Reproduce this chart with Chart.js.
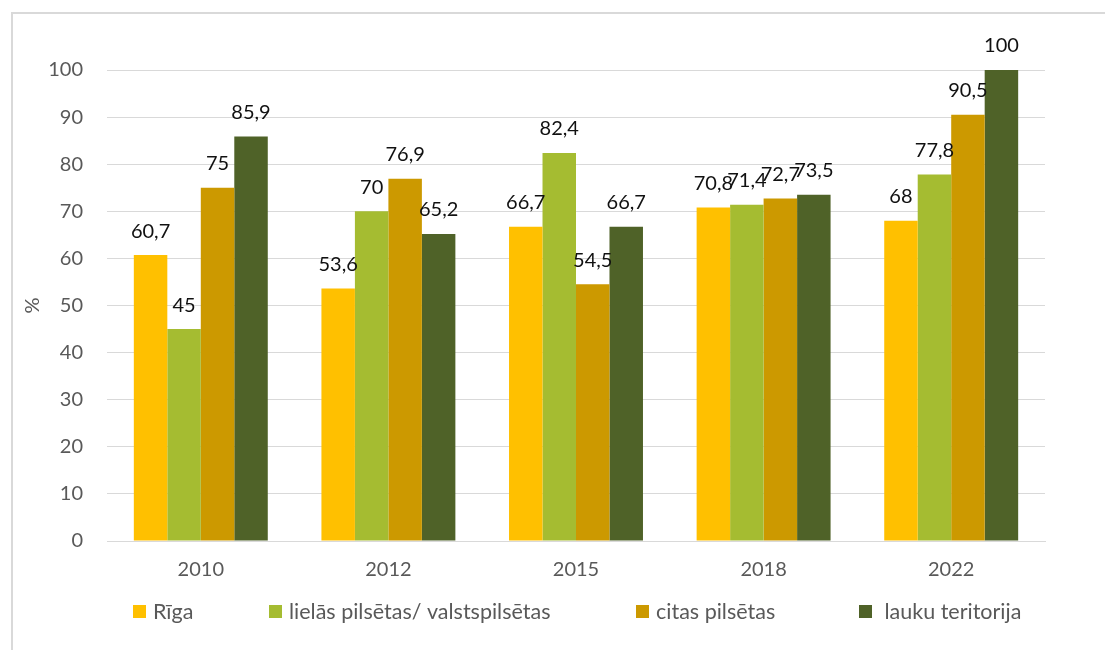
<!DOCTYPE html>
<html>
<head>
<meta charset="utf-8">
<script src="https://cdn.jsdelivr.net/npm/chart.js@4"></script>
<style>
  html, body { margin: 0; padding: 0; background: #fff; }
  #wrap { width: 1105px; height: 650px; }
</style>
</head>
<body>
<div id="wrap"><canvas id="chart"></canvas></div>
<script>
  const years = ["2010", "2012", "2015", "2018", "2022"];
  const seriesNames = ["Rīga", "lielās pilsētas/ valstspilsētas", "citas pilsētas", " lauku teritorija"];
  const riga = [60.7, 53.6, 66.7, 70.8, 68];
  const lielas = [45, 70, 82.4, 71.4, 77.8];
  const citas = [75, 76.9, 54.5, 72.7, 90.5];
  const lauku = [85.9, 65.2, 66.7, 73.5, 100];
  const colors = ["#FFC000", "#A5BC31", "#CC9900", "#4F6228"];

  const font = "Lato, 'Open Sans', sans-serif";
  const legendX = [133, 269, 636, 859];

  // data labels above bars, comma decimals
  const valueLabels = {
    id: "valueLabels",
    afterDatasetsDraw(chart) {
      const ctx = chart.ctx;
      ctx.save();
      ctx.font = "20px " + font;
      ctx.fillStyle = "#111";
      ctx.textAlign = "center";
      ctx.textBaseline = "middle";
      chart.data.datasets.forEach((ds, i) => {
        chart.getDatasetMeta(i).data.forEach((bar, j) => {
          const txt = String(ds.data[j]).replace(".", ",");
          ctx.fillText(txt, bar.x, bar.y - 24);
        });
      });
      ctx.restore();
    }
  };

  // frame and legend like the Excel original
  const frameAndLegend = {
    id: "frameAndLegend",
    afterDraw(chart) {
      const ctx = chart.ctx;
      ctx.save();
      ctx.strokeStyle = "#D9D9D9";
      ctx.lineWidth = 2;
      ctx.beginPath();
      ctx.moveTo(12, 650);
      ctx.lineTo(12, 13);
      ctx.lineTo(1105, 13);
      ctx.stroke();

      ctx.font = "21.5px " + font;
      ctx.textBaseline = "middle";
      ctx.textAlign = "left";
      chart.data.datasets.forEach((ds, i) => {
        const x = legendX[i];
        ctx.fillStyle = ds.backgroundColor;
        ctx.fillRect(x, 605, 13, 13);
        ctx.fillStyle = "#595959";
        ctx.fillText(ds.label, x + 20, 612);
      });
      ctx.restore();
    }
  };

  new Chart(document.getElementById("chart"), {
    type: "bar",
    data: {
      labels: years,
      datasets: [
        { label: seriesNames[0], data: riga, backgroundColor: colors[0] },
        { label: seriesNames[1], data: lielas, backgroundColor: colors[1] },
        { label: seriesNames[2], data: citas, backgroundColor: colors[2] },
        { label: seriesNames[3], data: lauku, backgroundColor: colors[3] },
      ],
    },
    options: {
      responsive: true,
      maintainAspectRatio: false,
      animation: false,
      layout: { padding: { top: 70, right: 60, bottom: 0, left: 11 } },
      datasets: {
        bar: { categoryPercentage: 0.714, barPercentage: 1.0 },
      },
      plugins: {
        legend: { display: false },
        tooltip: { enabled: false },
      },
      scales: {
        x: {
          afterFit(scale) { scale.height = 109; },
          grid: { display: false, drawTicks: false },
          border: { color: "#D9D9D9", width: 1 },
          ticks: { color: "#595959", font: { family: font, size: 20 }, padding: 17 },
        },
        y: {
          min: 0,
          max: 100,
          afterFit(scale) { scale.width = 96; },
          grid: { color: "#D9D9D9", drawTicks: false },
          border: { display: false },
          ticks: { stepSize: 10, color: "#595959", font: { family: font, size: 20 }, padding: 24 },
          title: {
            display: true,
            text: "%",
            color: "#595959",
            font: { family: font, size: 20 },
            padding: { top: 10, bottom: 0 },
          },
        },
      },
    },
    plugins: [valueLabels, frameAndLegend],
  });
</script>
</body>
</html>
